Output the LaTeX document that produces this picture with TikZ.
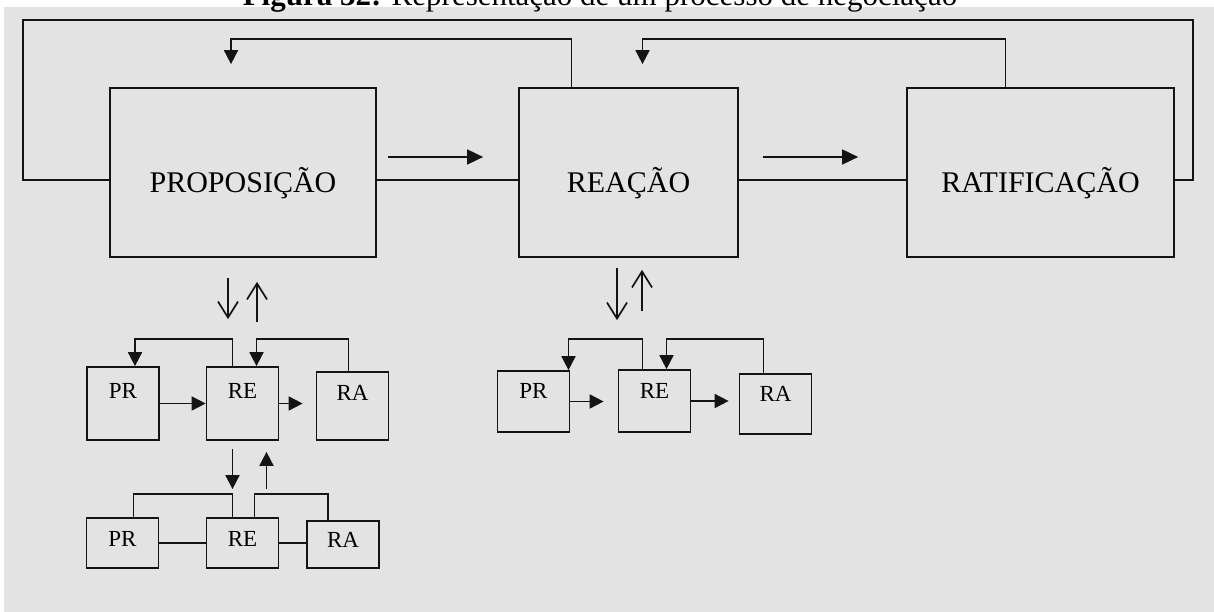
\documentclass[tikz,border=0pt]{standalone}
\usepackage{fontspec}
\setmainfont{Liberation Serif}
\usepackage{tikz}
\usetikzlibrary{arrows.meta, calc}
\definecolor{bggray}{RGB}{227,227,227}
\definecolor{ink}{RGB}{20,20,20}

\begin{document}
\begin{tikzpicture}[x=1pt, y=-1pt, line width=1.7pt, draw=ink,
  bigbox/.style={draw=ink, minimum width=#1, minimum height=169pt, inner sep=0pt,
    text height=45pt, text depth=4pt, font=\fontsize{30}{36}\selectfont},
  sbox/.style={draw=ink, minimum width=72pt, minimum height=#1, inner sep=0pt,
    text height=10pt, text depth=16pt, font=\fontsize{23}{28}\selectfont},
  arr/.style={-{Triangle[length=14pt,width=14pt]}},
  bigarr/.style={-{Triangle[length=16pt,width=15pt]}},
  openarr/.style={-{Straight Barb[length=16pt,width=20pt]}}]
\clip (0,0) rectangle (1214,612);
\fill[bggray] (4,7) rectangle (1214,612);
\node[anchor=base, font=\fontsize{31}{36}\selectfont] (title) at (600,6)
  {\textbf{Figura 32:} Representação de um processo de negociação};

\node[bigbox=266pt] (prop) at (243,172.5) {PROPOSIÇÃO};
\node[bigbox=219pt] (reac) at (628.5,172.5) {REAÇÃO};
\node[bigbox=267pt] (ratif) at (1040.5,172.5) {RATIFICAÇÃO};

\coordinate (mid) at (0,180);
\coordinate (lt) at (23,20);
\coordinate (rt) at (1193,20);
\draw (prop.west |- mid) -| (lt) -- (rt) |- (ratif.east |- mid);
\draw (prop.east |- mid) -- (reac.west |- mid);
\draw (reac.east |- mid) -- (ratif.west |- mid);
\draw[bigarr] ($(prop.east)+(11,-15.5)$) -- ($(reac.west)+(-35,-15.5)$);
\draw[bigarr] ($(reac.east)+(24,-15.5)$) -- ($(ratif.west)+(-48,-15.5)$);
\draw[arr, shorten >=23pt] ([xshift=-57pt]reac.north) -- ++(0,-48) -| ([xshift=-12pt]prop.north);
\draw[arr, shorten >=23pt] ([xshift=-35pt]ratif.north) -- ++(0,-48) -| ([xshift=14pt]reac.north);

\node[sbox=73pt, text depth=21pt] (pr1) at (123,403.5) {PR};
\node[sbox=73pt, text depth=21pt] (re1) at (242.5,403.5) {RE};
\node[sbox=68pt, text depth=21pt] (ra1) at (352.5,406) {RA};

\node[sbox=50pt, text depth=4pt] (pr2) at (122.5,543) {PR};
\node[sbox=50pt, text depth=4pt] (re2) at (242.5,543) {RE};
\node[sbox=47pt, text depth=4pt] (ra2) at (343,544.5) {RA};

\node[sbox=61pt] (pr3) at (533.5,401.5) {PR};
\node[sbox=62pt] (re3) at (654.5,401) {RE};
\node[sbox=60pt] (ra3) at (775.5,404) {RA};

\draw[openarr, shorten <=20pt, shorten >=47pt] ([xshift=-15pt]prop.south) -- ([xshift=-15pt]prop.south |- re1.north);
\draw[openarr, shorten <=44pt, shorten >=24pt] ([xshift=14pt]prop.south |- re1.north) -- ([xshift=14pt]prop.south);
\draw[openarr, shorten <=10pt, shorten >=49pt] ([xshift=-11.5pt]reac.south) -- ([xshift=-11.5pt]reac.south |- re3.north);
\draw[openarr, shorten <=58pt, shorten >=12pt] ([xshift=13.5pt]reac.south |- re3.north) -- ([xshift=13.5pt]reac.south);

\draw[arr] ([xshift=-10pt]re1.north) -- ++(0,-27) -| ([xshift=12pt]pr1.north);
\draw[arr] ([xshift=-4pt]ra1.north) -- ++(0,-32) -| ([xshift=14pt]re1.north);
\draw[arr] (pr1.east) -- (re1.west);
\draw[arr] (re1.east) -- ([xshift=-13pt]ra1.west |- re1.east);
\draw[arr, shorten <=8pt, shorten >=28pt] ([xshift=-10pt]re1.south) -- ([xshift=-10pt]re1.south |- re2.north);
\draw[arr, shorten <=28pt, shorten >=11pt] ([xshift=24pt]re1.south |- re2.north) -- ([xshift=24pt]re1.south);

\draw ([xshift=11pt]pr2.north) -- ++(0,-23) -| ([xshift=-10pt]re2.north);
\draw ([xshift=12pt]re2.north) -- ++(0,-23) -| ([xshift=-15pt]ra2.north);
\draw (pr2.east) -- (re2.west);
\draw (re2.east) -- (ra2.west |- re2.east);

\draw[arr] ([xshift=-12pt]re3.north) -- ++(0,-30) -| ([xshift=35pt]pr3.north);
\draw[arr] ([xshift=-12pt]ra3.north) -- ++(0,-34) -| ([xshift=12pt]re3.north);
\draw[arr] (pr3.east) -- ([xshift=-14pt]re3.west |- pr3.east);
\draw[arr] (re3.east) -- ([xshift=-10pt]ra3.west |- re3.east);
\end{tikzpicture}
\end{document}
